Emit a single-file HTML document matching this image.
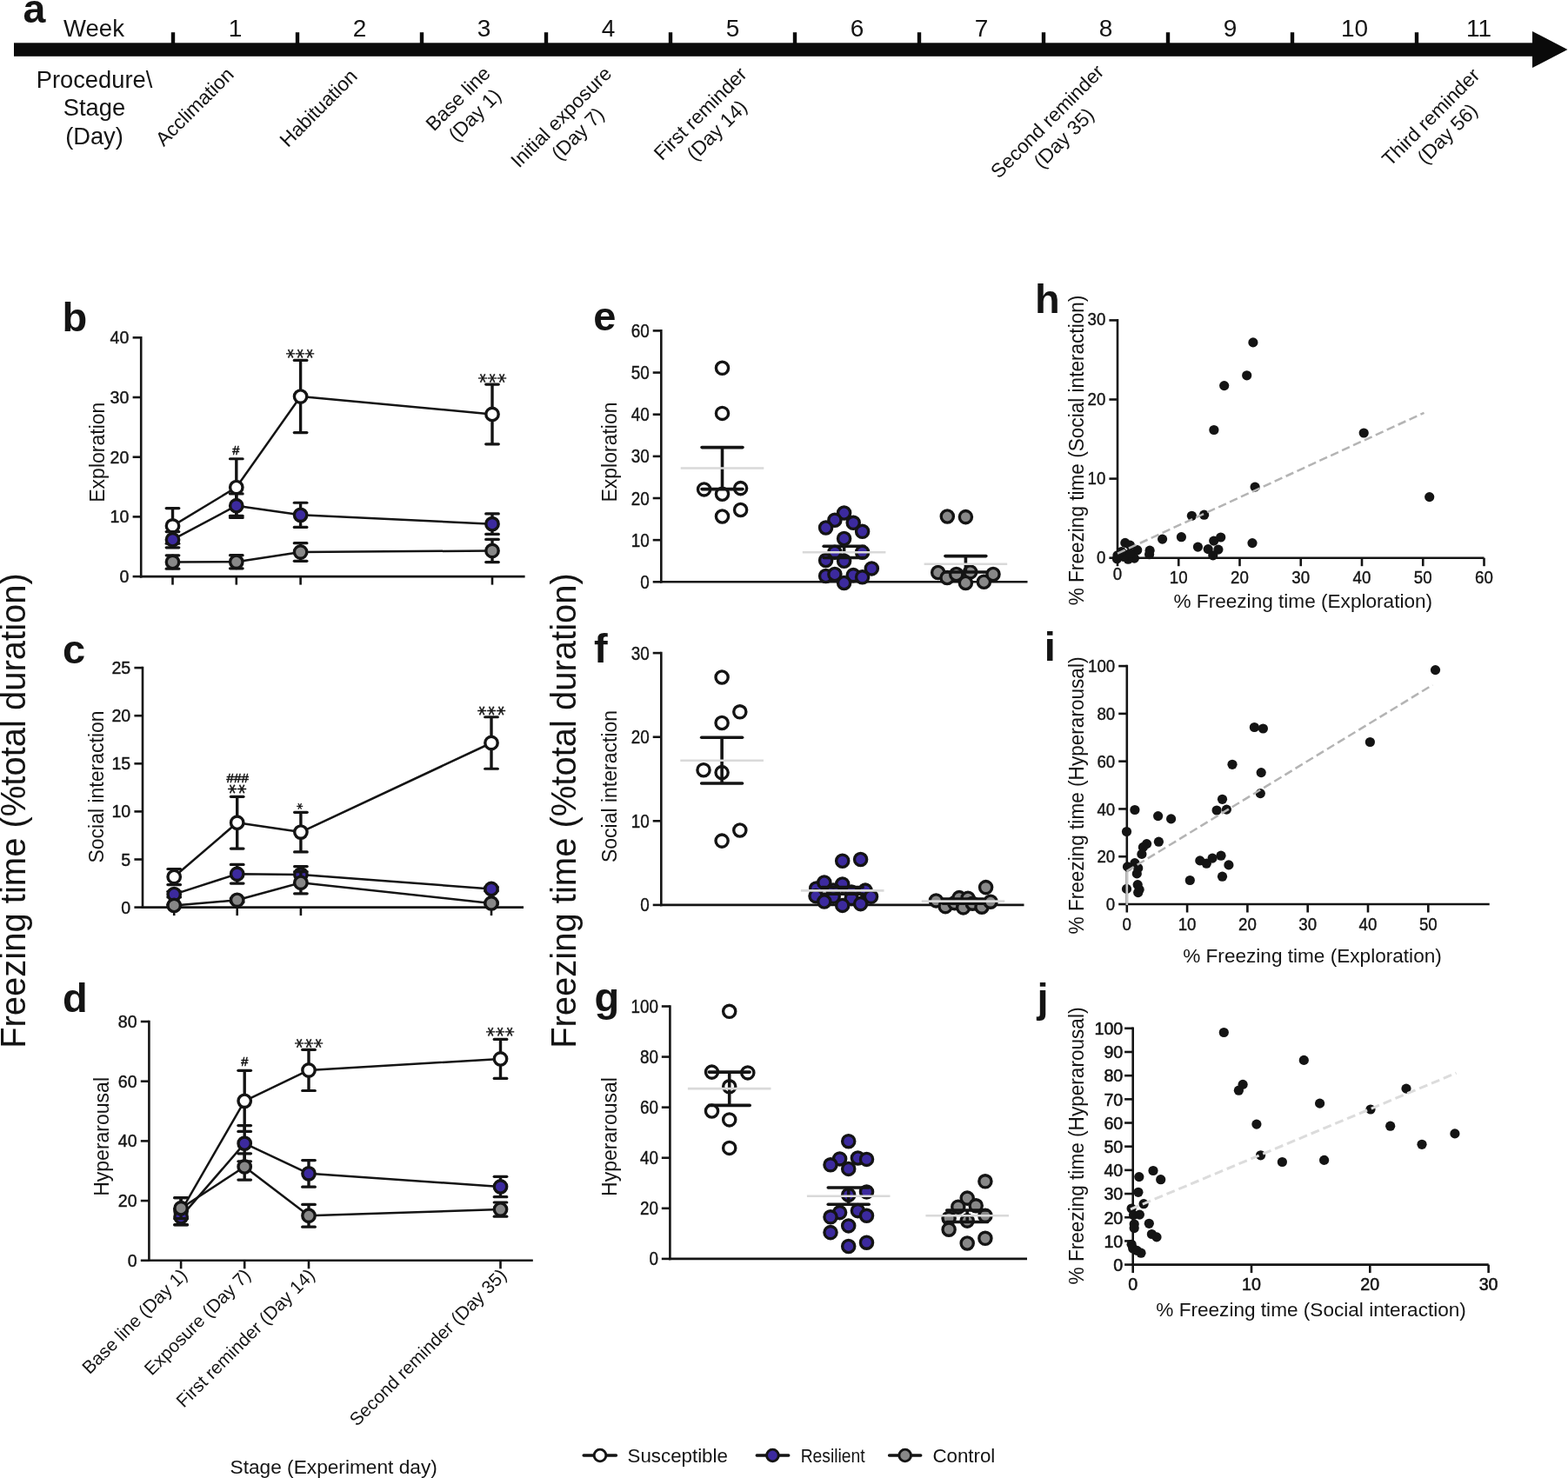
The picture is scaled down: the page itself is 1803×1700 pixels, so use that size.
<!DOCTYPE html>
<html><head><meta charset="utf-8"><title>Figure</title>
<style>
html,body{margin:0;padding:0;background:#fff;overflow:hidden;}
svg{display:block;}
text{font-family:"Liberation Sans", Arial, sans-serif;}
</style></head>
<body>
<svg width="1803" height="1700" viewBox="0 0 1803 1700">
<rect width="1803" height="1700" fill="#ffffff"/>
<rect x="16" y="49.3" width="1750" height="15.5" fill="#0a0a0a"/>
<polygon points="1762,36 1802.5,57 1762,78" fill="#0a0a0a"/>
<rect x="196.8" y="37.2" width="4.4" height="13" fill="#0a0a0a"/>
<rect x="339.8" y="37.2" width="4.4" height="13" fill="#0a0a0a"/>
<rect x="482.8" y="37.2" width="4.4" height="13" fill="#0a0a0a"/>
<rect x="625.8" y="37.2" width="4.4" height="13" fill="#0a0a0a"/>
<rect x="768.8" y="37.2" width="4.4" height="13" fill="#0a0a0a"/>
<rect x="911.8" y="37.2" width="4.4" height="13" fill="#0a0a0a"/>
<rect x="1054.8" y="37.2" width="4.4" height="13" fill="#0a0a0a"/>
<rect x="1197.8" y="37.2" width="4.4" height="13" fill="#0a0a0a"/>
<rect x="1340.8" y="37.2" width="4.4" height="13" fill="#0a0a0a"/>
<rect x="1483.8" y="37.2" width="4.4" height="13" fill="#0a0a0a"/>
<rect x="1626.8" y="37.2" width="4.4" height="13" fill="#0a0a0a"/>
<text x="108" y="42.4" font-size="27.5" text-anchor="middle" fill="#141414">Week</text>
<text x="270.5" y="42.4" font-size="28" text-anchor="middle" fill="#141414">1</text>
<text x="413.5" y="42.4" font-size="28" text-anchor="middle" fill="#141414">2</text>
<text x="556.5" y="42.4" font-size="28" text-anchor="middle" fill="#141414">3</text>
<text x="699.5" y="42.4" font-size="28" text-anchor="middle" fill="#141414">4</text>
<text x="842.5" y="42.4" font-size="28" text-anchor="middle" fill="#141414">5</text>
<text x="985.5" y="42.4" font-size="28" text-anchor="middle" fill="#141414">6</text>
<text x="1128.5" y="42.4" font-size="28" text-anchor="middle" fill="#141414">7</text>
<text x="1271.5" y="42.4" font-size="28" text-anchor="middle" fill="#141414">8</text>
<text x="1414.5" y="42.4" font-size="28" text-anchor="middle" fill="#141414">9</text>
<text x="1557.5" y="42.4" font-size="28" text-anchor="middle" fill="#141414">10</text>
<text x="1700.5" y="42.4" font-size="28" text-anchor="middle" fill="#141414">11</text>
<text x="26.5" y="25.8" font-size="46.5" text-anchor="start" font-weight="bold" fill="#141414">a</text>
<text x="108.5" y="100.8" font-size="27.3" text-anchor="middle" fill="#141414">Procedure\</text>
<text x="108.5" y="133.2" font-size="27.3" text-anchor="middle" fill="#141414">Stage</text>
<text x="108.5" y="165.7" font-size="27.3" text-anchor="middle" fill="#141414">(Day)</text>
<g transform="translate(223.5 122.5) rotate(-45)"><text x="0" y="8" font-size="22.7" text-anchor="middle" fill="#141414">Acclimation</text></g>
<g transform="translate(366 124) rotate(-45)"><text x="0" y="8" font-size="22.7" text-anchor="middle" fill="#141414">Habituation</text></g>
<g transform="translate(536 122.6) rotate(-45)"><text x="0" y="-5.5" font-size="22.7" text-anchor="middle" fill="#141414">Base line</text><text x="0" y="21.5" font-size="22.7" text-anchor="middle" fill="#141414">(Day 1)</text></g>
<g transform="translate(654.5 144) rotate(-45)"><text x="0" y="-5.5" font-size="22.7" text-anchor="middle" fill="#141414">Initial exposure</text><text x="0" y="21.5" font-size="22.7" text-anchor="middle" fill="#141414">(Day 7)</text></g>
<g transform="translate(814.5 140) rotate(-45)"><text x="0" y="-5.5" font-size="22.7" text-anchor="middle" fill="#141414">First reminder</text><text x="0" y="21.5" font-size="22.7" text-anchor="middle" fill="#141414">(Day 14)</text></g>
<g transform="translate(1213.5 149) rotate(-45)"><text x="0" y="-5.5" font-size="22.7" text-anchor="middle" fill="#141414">Second reminder</text><text x="0" y="21.5" font-size="22.7" text-anchor="middle" fill="#141414">(Day 35)</text></g>
<g transform="translate(1654.5 144) rotate(-45)"><text x="0" y="-5.5" font-size="22.7" text-anchor="middle" fill="#141414">Third reminder</text><text x="0" y="21.5" font-size="22.7" text-anchor="middle" fill="#141414">(Day 56)</text></g>
<text x="71.5" y="380.6" font-size="47" text-anchor="start" font-weight="bold" fill="#141414">b</text>
<text transform="translate(120.1 520.2) scale(1 1) rotate(-90)" font-size="23" text-anchor="middle" fill="#141414">Exploration</text>
<line x1="162.2" y1="387" x2="162.2" y2="664.4" stroke="#141414" stroke-width="2.6" stroke-linecap="butt"/>
<line x1="152.6" y1="663.1" x2="162.2" y2="663.1" stroke="#141414" stroke-width="2.6" stroke-linecap="butt"/>
<text transform="translate(148.4 670.12) scale(1 1)" font-size="19.6" text-anchor="end" fill="#141414" stroke="#141414" stroke-width="0.4">0</text>
<line x1="152.6" y1="594.4" x2="162.2" y2="594.4" stroke="#141414" stroke-width="2.6" stroke-linecap="butt"/>
<text transform="translate(148.4 601.42) scale(1 1)" font-size="19.6" text-anchor="end" fill="#141414" stroke="#141414" stroke-width="0.4">10</text>
<line x1="152.6" y1="525.7" x2="162.2" y2="525.7" stroke="#141414" stroke-width="2.6" stroke-linecap="butt"/>
<text transform="translate(148.4 532.72) scale(1 1)" font-size="19.6" text-anchor="end" fill="#141414" stroke="#141414" stroke-width="0.4">20</text>
<line x1="152.6" y1="457" x2="162.2" y2="457" stroke="#141414" stroke-width="2.6" stroke-linecap="butt"/>
<text transform="translate(148.4 464.02) scale(1 1)" font-size="19.6" text-anchor="end" fill="#141414" stroke="#141414" stroke-width="0.4">30</text>
<line x1="152.6" y1="388.3" x2="162.2" y2="388.3" stroke="#141414" stroke-width="2.6" stroke-linecap="butt"/>
<text transform="translate(148.4 395.32) scale(1 1)" font-size="19.6" text-anchor="end" fill="#141414" stroke="#141414" stroke-width="0.4">40</text>
<line x1="160.9" y1="663.1" x2="603.6" y2="663.1" stroke="#141414" stroke-width="2.6" stroke-linecap="butt"/>
<line x1="198.5" y1="663.1" x2="198.5" y2="672.6" stroke="#141414" stroke-width="2.6" stroke-linecap="butt"/>
<line x1="271.8" y1="663.1" x2="271.8" y2="672.6" stroke="#141414" stroke-width="2.6" stroke-linecap="butt"/>
<line x1="345.6" y1="663.1" x2="345.6" y2="672.6" stroke="#141414" stroke-width="2.6" stroke-linecap="butt"/>
<line x1="566" y1="663.1" x2="566" y2="672.6" stroke="#141414" stroke-width="2.6" stroke-linecap="butt"/>
<line x1="198.5" y1="584.58" x2="198.5" y2="625.25" stroke="#141414" stroke-width="3.4" stroke-linecap="butt"/>
<line x1="191.2" y1="584.58" x2="205.8" y2="584.58" stroke="#141414" stroke-width="3.2" stroke-linecap="round"/>
<line x1="191.2" y1="625.25" x2="205.8" y2="625.25" stroke="#141414" stroke-width="3.2" stroke-linecap="round"/>
<line x1="271.8" y1="527.76" x2="271.8" y2="593.3" stroke="#141414" stroke-width="3.4" stroke-linecap="butt"/>
<line x1="264.5" y1="527.76" x2="279.1" y2="527.76" stroke="#141414" stroke-width="3.2" stroke-linecap="round"/>
<line x1="264.5" y1="593.3" x2="279.1" y2="593.3" stroke="#141414" stroke-width="3.2" stroke-linecap="round"/>
<line x1="345.6" y1="414.47" x2="345.6" y2="497.6" stroke="#141414" stroke-width="3.4" stroke-linecap="butt"/>
<line x1="338.3" y1="414.47" x2="352.9" y2="414.47" stroke="#141414" stroke-width="3.2" stroke-linecap="round"/>
<line x1="338.3" y1="497.6" x2="352.9" y2="497.6" stroke="#141414" stroke-width="3.2" stroke-linecap="round"/>
<line x1="566" y1="442.09" x2="566" y2="510.79" stroke="#141414" stroke-width="3.4" stroke-linecap="butt"/>
<line x1="558.7" y1="442.09" x2="573.3" y2="442.09" stroke="#141414" stroke-width="3.2" stroke-linecap="round"/>
<line x1="558.7" y1="510.79" x2="573.3" y2="510.79" stroke="#141414" stroke-width="3.2" stroke-linecap="round"/>
<polyline points="198.5,604.91 271.8,560.53 345.6,456.04 566,476.44" fill="none" stroke="#141414" stroke-width="2.5" stroke-linejoin="round"/>
<circle cx="198.5" cy="604.91" r="7.2" fill="#ffffff" stroke="#141414" stroke-width="3.4"/>
<circle cx="271.8" cy="560.53" r="7.2" fill="#ffffff" stroke="#141414" stroke-width="3.4"/>
<circle cx="345.6" cy="456.04" r="7.2" fill="#ffffff" stroke="#141414" stroke-width="3.4"/>
<circle cx="566" cy="476.44" r="7.2" fill="#ffffff" stroke="#141414" stroke-width="3.4"/>
<line x1="198.5" y1="611.57" x2="198.5" y2="629.85" stroke="#141414" stroke-width="3.4" stroke-linecap="butt"/>
<line x1="191.2" y1="611.57" x2="205.8" y2="611.57" stroke="#141414" stroke-width="3.2" stroke-linecap="round"/>
<line x1="191.2" y1="629.85" x2="205.8" y2="629.85" stroke="#141414" stroke-width="3.2" stroke-linecap="round"/>
<line x1="271.8" y1="567.95" x2="271.8" y2="595.43" stroke="#141414" stroke-width="3.4" stroke-linecap="butt"/>
<line x1="264.5" y1="567.95" x2="279.1" y2="567.95" stroke="#141414" stroke-width="3.2" stroke-linecap="round"/>
<line x1="264.5" y1="595.43" x2="279.1" y2="595.43" stroke="#141414" stroke-width="3.2" stroke-linecap="round"/>
<line x1="345.6" y1="578.26" x2="345.6" y2="606.42" stroke="#141414" stroke-width="3.4" stroke-linecap="butt"/>
<line x1="338.3" y1="578.26" x2="352.9" y2="578.26" stroke="#141414" stroke-width="3.2" stroke-linecap="round"/>
<line x1="338.3" y1="606.42" x2="352.9" y2="606.42" stroke="#141414" stroke-width="3.2" stroke-linecap="round"/>
<line x1="566" y1="590.9" x2="566" y2="614.39" stroke="#141414" stroke-width="3.4" stroke-linecap="butt"/>
<line x1="558.7" y1="590.9" x2="573.3" y2="590.9" stroke="#141414" stroke-width="3.2" stroke-linecap="round"/>
<line x1="558.7" y1="614.39" x2="573.3" y2="614.39" stroke="#141414" stroke-width="3.2" stroke-linecap="round"/>
<polyline points="198.5,620.71 271.8,581.69 345.6,592.34 566,602.64" fill="none" stroke="#141414" stroke-width="2.5" stroke-linejoin="round"/>
<circle cx="198.5" cy="620.71" r="7.2" fill="#3c2a9e" stroke="#141414" stroke-width="3.4"/>
<circle cx="271.8" cy="581.69" r="7.2" fill="#3c2a9e" stroke="#141414" stroke-width="3.4"/>
<circle cx="345.6" cy="592.34" r="7.2" fill="#3c2a9e" stroke="#141414" stroke-width="3.4"/>
<circle cx="566" cy="602.64" r="7.2" fill="#3c2a9e" stroke="#141414" stroke-width="3.4"/>
<line x1="198.5" y1="638.78" x2="198.5" y2="654.17" stroke="#141414" stroke-width="3.4" stroke-linecap="butt"/>
<line x1="191.2" y1="638.78" x2="205.8" y2="638.78" stroke="#141414" stroke-width="3.2" stroke-linecap="round"/>
<line x1="191.2" y1="654.17" x2="205.8" y2="654.17" stroke="#141414" stroke-width="3.2" stroke-linecap="round"/>
<line x1="271.8" y1="638.71" x2="271.8" y2="653.83" stroke="#141414" stroke-width="3.4" stroke-linecap="butt"/>
<line x1="264.5" y1="638.71" x2="279.1" y2="638.71" stroke="#141414" stroke-width="3.2" stroke-linecap="round"/>
<line x1="264.5" y1="653.83" x2="279.1" y2="653.83" stroke="#141414" stroke-width="3.2" stroke-linecap="round"/>
<line x1="345.6" y1="624.7" x2="345.6" y2="645.31" stroke="#141414" stroke-width="3.4" stroke-linecap="butt"/>
<line x1="338.3" y1="624.7" x2="352.9" y2="624.7" stroke="#141414" stroke-width="3.2" stroke-linecap="round"/>
<line x1="338.3" y1="645.31" x2="352.9" y2="645.31" stroke="#141414" stroke-width="3.2" stroke-linecap="round"/>
<line x1="566" y1="620.44" x2="566" y2="646.54" stroke="#141414" stroke-width="3.4" stroke-linecap="butt"/>
<line x1="558.7" y1="620.44" x2="573.3" y2="620.44" stroke="#141414" stroke-width="3.2" stroke-linecap="round"/>
<line x1="558.7" y1="646.54" x2="573.3" y2="646.54" stroke="#141414" stroke-width="3.2" stroke-linecap="round"/>
<polyline points="198.5,646.47 271.8,646.27 345.6,635 566,633.49" fill="none" stroke="#141414" stroke-width="2.5" stroke-linejoin="round"/>
<circle cx="198.5" cy="646.47" r="7.2" fill="#888888" stroke="#141414" stroke-width="3.4"/>
<circle cx="271.8" cy="646.27" r="7.2" fill="#888888" stroke="#141414" stroke-width="3.4"/>
<circle cx="345.6" cy="635" r="7.2" fill="#888888" stroke="#141414" stroke-width="3.4"/>
<circle cx="566" cy="633.49" r="7.2" fill="#888888" stroke="#141414" stroke-width="3.4"/>
<text x="271.4" y="523.45" font-size="14.5" text-anchor="middle" fill="#141414" stroke="#141414" stroke-width="0.55">#</text>
<text x="339.96" y="401.3" style="font-family:'DejaVu Sans', 'Liberation Sans', sans-serif" font-size="22" rotate="90" text-anchor="middle" stroke="#141414" stroke-width="0.45" fill="#141414">***</text>
<text x="560.46" y="429.5" style="font-family:'DejaVu Sans', 'Liberation Sans', sans-serif" font-size="22" rotate="90" text-anchor="middle" stroke="#141414" stroke-width="0.45" fill="#141414">***</text>
<text x="72" y="762.5" font-size="47" text-anchor="start" font-weight="bold" fill="#141414">c</text>
<text transform="translate(118.6 905) scale(1 1) rotate(-90)" font-size="23" text-anchor="middle" fill="#141414">Social interaction</text>
<line x1="164" y1="766.8" x2="164" y2="1044.9" stroke="#141414" stroke-width="2.6" stroke-linecap="butt"/>
<line x1="154.4" y1="1043.6" x2="164" y2="1043.6" stroke="#141414" stroke-width="2.6" stroke-linecap="butt"/>
<text transform="translate(150.2 1050.62) scale(1 1)" font-size="19.6" text-anchor="end" fill="#141414" stroke="#141414" stroke-width="0.4">0</text>
<line x1="154.4" y1="988.5" x2="164" y2="988.5" stroke="#141414" stroke-width="2.6" stroke-linecap="butt"/>
<text transform="translate(150.2 995.52) scale(1 1)" font-size="19.6" text-anchor="end" fill="#141414" stroke="#141414" stroke-width="0.4">5</text>
<line x1="154.4" y1="933.4" x2="164" y2="933.4" stroke="#141414" stroke-width="2.6" stroke-linecap="butt"/>
<text transform="translate(150.2 940.42) scale(1 1)" font-size="19.6" text-anchor="end" fill="#141414" stroke="#141414" stroke-width="0.4">10</text>
<line x1="154.4" y1="878.3" x2="164" y2="878.3" stroke="#141414" stroke-width="2.6" stroke-linecap="butt"/>
<text transform="translate(150.2 885.32) scale(1 1)" font-size="19.6" text-anchor="end" fill="#141414" stroke="#141414" stroke-width="0.4">15</text>
<line x1="154.4" y1="823.2" x2="164" y2="823.2" stroke="#141414" stroke-width="2.6" stroke-linecap="butt"/>
<text transform="translate(150.2 830.22) scale(1 1)" font-size="19.6" text-anchor="end" fill="#141414" stroke="#141414" stroke-width="0.4">20</text>
<line x1="154.4" y1="768.1" x2="164" y2="768.1" stroke="#141414" stroke-width="2.6" stroke-linecap="butt"/>
<text transform="translate(150.2 775.12) scale(1 1)" font-size="19.6" text-anchor="end" fill="#141414" stroke="#141414" stroke-width="0.4">25</text>
<line x1="162.7" y1="1043.6" x2="602" y2="1043.6" stroke="#141414" stroke-width="2.6" stroke-linecap="butt"/>
<line x1="200.2" y1="1043.6" x2="200.2" y2="1053.1" stroke="#141414" stroke-width="2.6" stroke-linecap="butt"/>
<line x1="272.7" y1="1043.6" x2="272.7" y2="1053.1" stroke="#141414" stroke-width="2.6" stroke-linecap="butt"/>
<line x1="345.9" y1="1043.6" x2="345.9" y2="1053.1" stroke="#141414" stroke-width="2.6" stroke-linecap="butt"/>
<line x1="565" y1="1043.6" x2="565" y2="1053.1" stroke="#141414" stroke-width="2.6" stroke-linecap="butt"/>
<line x1="200.2" y1="999.52" x2="200.2" y2="1017.59" stroke="#141414" stroke-width="3.4" stroke-linecap="butt"/>
<line x1="192.9" y1="999.52" x2="207.5" y2="999.52" stroke="#141414" stroke-width="3.2" stroke-linecap="round"/>
<line x1="192.9" y1="1017.59" x2="207.5" y2="1017.59" stroke="#141414" stroke-width="3.2" stroke-linecap="round"/>
<line x1="272.7" y1="916.32" x2="272.7" y2="976.05" stroke="#141414" stroke-width="3.4" stroke-linecap="butt"/>
<line x1="265.4" y1="916.32" x2="280" y2="916.32" stroke="#141414" stroke-width="3.2" stroke-linecap="round"/>
<line x1="265.4" y1="976.05" x2="280" y2="976.05" stroke="#141414" stroke-width="3.2" stroke-linecap="round"/>
<line x1="345.9" y1="934.28" x2="345.9" y2="979.9" stroke="#141414" stroke-width="3.4" stroke-linecap="butt"/>
<line x1="338.6" y1="934.28" x2="353.2" y2="934.28" stroke="#141414" stroke-width="3.2" stroke-linecap="round"/>
<line x1="338.6" y1="979.9" x2="353.2" y2="979.9" stroke="#141414" stroke-width="3.2" stroke-linecap="round"/>
<line x1="565" y1="824.74" x2="565" y2="884.25" stroke="#141414" stroke-width="3.4" stroke-linecap="butt"/>
<line x1="557.7" y1="824.74" x2="572.3" y2="824.74" stroke="#141414" stroke-width="3.2" stroke-linecap="round"/>
<line x1="557.7" y1="884.25" x2="572.3" y2="884.25" stroke="#141414" stroke-width="3.2" stroke-linecap="round"/>
<polyline points="200.2,1008.56 272.7,946.18 345.9,957.09 565,854.5" fill="none" stroke="#141414" stroke-width="2.5" stroke-linejoin="round"/>
<circle cx="200.2" cy="1008.56" r="7.2" fill="#ffffff" stroke="#141414" stroke-width="3.4"/>
<circle cx="272.7" cy="946.18" r="7.2" fill="#ffffff" stroke="#141414" stroke-width="3.4"/>
<circle cx="345.9" cy="957.09" r="7.2" fill="#ffffff" stroke="#141414" stroke-width="3.4"/>
<circle cx="565" cy="854.5" r="7.2" fill="#ffffff" stroke="#141414" stroke-width="3.4"/>
<line x1="200.2" y1="1025.31" x2="200.2" y2="1031.92" stroke="#141414" stroke-width="3.4" stroke-linecap="butt"/>
<line x1="192.9" y1="1025.31" x2="207.5" y2="1025.31" stroke="#141414" stroke-width="3.2" stroke-linecap="round"/>
<line x1="192.9" y1="1031.92" x2="207.5" y2="1031.92" stroke="#141414" stroke-width="3.2" stroke-linecap="round"/>
<line x1="272.7" y1="994.45" x2="272.7" y2="1016.05" stroke="#141414" stroke-width="3.4" stroke-linecap="butt"/>
<line x1="265.4" y1="994.45" x2="280" y2="994.45" stroke="#141414" stroke-width="3.2" stroke-linecap="round"/>
<line x1="265.4" y1="1016.05" x2="280" y2="1016.05" stroke="#141414" stroke-width="3.2" stroke-linecap="round"/>
<line x1="345.9" y1="996.54" x2="345.9" y2="1015.28" stroke="#141414" stroke-width="3.4" stroke-linecap="butt"/>
<line x1="338.6" y1="996.54" x2="353.2" y2="996.54" stroke="#141414" stroke-width="3.2" stroke-linecap="round"/>
<line x1="338.6" y1="1015.28" x2="353.2" y2="1015.28" stroke="#141414" stroke-width="3.2" stroke-linecap="round"/>
<line x1="565" y1="1020.24" x2="565" y2="1024.65" stroke="#141414" stroke-width="3.4" stroke-linecap="butt"/>
<line x1="557.7" y1="1020.24" x2="572.3" y2="1020.24" stroke="#141414" stroke-width="3.2" stroke-linecap="round"/>
<line x1="557.7" y1="1024.65" x2="572.3" y2="1024.65" stroke="#141414" stroke-width="3.2" stroke-linecap="round"/>
<polyline points="200.2,1028.61 272.7,1005.25 345.9,1005.91 565,1022.44" fill="none" stroke="#141414" stroke-width="2.5" stroke-linejoin="round"/>
<circle cx="200.2" cy="1028.61" r="7.2" fill="#3c2a9e" stroke="#141414" stroke-width="3.4"/>
<circle cx="272.7" cy="1005.25" r="7.2" fill="#3c2a9e" stroke="#141414" stroke-width="3.4"/>
<circle cx="345.9" cy="1005.91" r="7.2" fill="#3c2a9e" stroke="#141414" stroke-width="3.4"/>
<circle cx="565" cy="1022.44" r="7.2" fill="#3c2a9e" stroke="#141414" stroke-width="3.4"/>
<line x1="200.2" y1="1040.29" x2="200.2" y2="1042.5" stroke="#141414" stroke-width="3.4" stroke-linecap="butt"/>
<line x1="192.9" y1="1040.29" x2="207.5" y2="1040.29" stroke="#141414" stroke-width="3.2" stroke-linecap="round"/>
<line x1="192.9" y1="1042.5" x2="207.5" y2="1042.5" stroke="#141414" stroke-width="3.2" stroke-linecap="round"/>
<line x1="272.7" y1="1033.13" x2="272.7" y2="1037.54" stroke="#141414" stroke-width="3.4" stroke-linecap="butt"/>
<line x1="265.4" y1="1033.13" x2="280" y2="1033.13" stroke="#141414" stroke-width="3.2" stroke-linecap="round"/>
<line x1="265.4" y1="1037.54" x2="280" y2="1037.54" stroke="#141414" stroke-width="3.2" stroke-linecap="round"/>
<line x1="345.9" y1="1002.72" x2="345.9" y2="1027.84" stroke="#141414" stroke-width="3.4" stroke-linecap="butt"/>
<line x1="338.6" y1="1002.72" x2="353.2" y2="1002.72" stroke="#141414" stroke-width="3.2" stroke-linecap="round"/>
<line x1="338.6" y1="1027.84" x2="353.2" y2="1027.84" stroke="#141414" stroke-width="3.2" stroke-linecap="round"/>
<line x1="565" y1="1037.87" x2="565" y2="1040.07" stroke="#141414" stroke-width="3.4" stroke-linecap="butt"/>
<line x1="557.7" y1="1037.87" x2="572.3" y2="1037.87" stroke="#141414" stroke-width="3.2" stroke-linecap="round"/>
<line x1="557.7" y1="1040.07" x2="572.3" y2="1040.07" stroke="#141414" stroke-width="3.2" stroke-linecap="round"/>
<polyline points="200.2,1041.4 272.7,1035.33 345.9,1015.28 565,1038.97" fill="none" stroke="#141414" stroke-width="2.5" stroke-linejoin="round"/>
<circle cx="200.2" cy="1041.4" r="7.2" fill="#888888" stroke="#141414" stroke-width="3.4"/>
<circle cx="272.7" cy="1035.33" r="7.2" fill="#888888" stroke="#141414" stroke-width="3.4"/>
<circle cx="345.9" cy="1015.28" r="7.2" fill="#888888" stroke="#141414" stroke-width="3.4"/>
<circle cx="565" cy="1038.97" r="7.2" fill="#888888" stroke="#141414" stroke-width="3.4"/>
<text x="273.2" y="900.1" font-size="15.2" text-anchor="middle" fill="#141414" stroke="#141414" stroke-width="0.55">###</text>
<text x="266.86" y="902.1" style="font-family:'DejaVu Sans', 'Liberation Sans', sans-serif" font-size="22" rotate="90" text-anchor="middle" stroke="#141414" stroke-width="0.45" fill="#141414">**</text>
<text x="341.78" y="923.67" style="font-family:'DejaVu Sans', 'Liberation Sans', sans-serif" font-size="14.5" rotate="90" text-anchor="middle" stroke="#141414" stroke-width="0.45" fill="#141414">*</text>
<text x="559.56" y="812" style="font-family:'DejaVu Sans', 'Liberation Sans', sans-serif" font-size="22" rotate="90" text-anchor="middle" stroke="#141414" stroke-width="0.45" fill="#141414">***</text>
<text x="72" y="1163.5" font-size="47" text-anchor="start" font-weight="bold" fill="#141414">d</text>
<text transform="translate(124.9 1307.4) scale(1 1) rotate(-90)" font-size="23" text-anchor="middle" fill="#141414">Hyperarousal</text>
<line x1="171.4" y1="1173.7" x2="171.4" y2="1451.1" stroke="#141414" stroke-width="2.6" stroke-linecap="butt"/>
<line x1="161.8" y1="1449.8" x2="171.4" y2="1449.8" stroke="#141414" stroke-width="2.6" stroke-linecap="butt"/>
<text transform="translate(157.6 1456.82) scale(1 1)" font-size="19.6" text-anchor="end" fill="#141414" stroke="#141414" stroke-width="0.4">0</text>
<line x1="161.8" y1="1381.1" x2="171.4" y2="1381.1" stroke="#141414" stroke-width="2.6" stroke-linecap="butt"/>
<text transform="translate(157.6 1388.12) scale(1 1)" font-size="19.6" text-anchor="end" fill="#141414" stroke="#141414" stroke-width="0.4">20</text>
<line x1="161.8" y1="1312.4" x2="171.4" y2="1312.4" stroke="#141414" stroke-width="2.6" stroke-linecap="butt"/>
<text transform="translate(157.6 1319.42) scale(1 1)" font-size="19.6" text-anchor="end" fill="#141414" stroke="#141414" stroke-width="0.4">40</text>
<line x1="161.8" y1="1243.7" x2="171.4" y2="1243.7" stroke="#141414" stroke-width="2.6" stroke-linecap="butt"/>
<text transform="translate(157.6 1250.72) scale(1 1)" font-size="19.6" text-anchor="end" fill="#141414" stroke="#141414" stroke-width="0.4">60</text>
<line x1="161.8" y1="1175" x2="171.4" y2="1175" stroke="#141414" stroke-width="2.6" stroke-linecap="butt"/>
<text transform="translate(157.6 1182.02) scale(1 1)" font-size="19.6" text-anchor="end" fill="#141414" stroke="#141414" stroke-width="0.4">80</text>
<line x1="170.1" y1="1449.8" x2="612.8" y2="1449.8" stroke="#141414" stroke-width="2.6" stroke-linecap="butt"/>
<line x1="208.1" y1="1449.8" x2="208.1" y2="1459.3" stroke="#141414" stroke-width="2.6" stroke-linecap="butt"/>
<line x1="281.2" y1="1449.8" x2="281.2" y2="1459.3" stroke="#141414" stroke-width="2.6" stroke-linecap="butt"/>
<line x1="355" y1="1449.8" x2="355" y2="1459.3" stroke="#141414" stroke-width="2.6" stroke-linecap="butt"/>
<line x1="575.5" y1="1449.8" x2="575.5" y2="1459.3" stroke="#141414" stroke-width="2.6" stroke-linecap="butt"/>
<line x1="208.1" y1="1377.66" x2="208.1" y2="1408.58" stroke="#141414" stroke-width="3.4" stroke-linecap="butt"/>
<line x1="200.8" y1="1377.66" x2="215.4" y2="1377.66" stroke="#141414" stroke-width="3.2" stroke-linecap="round"/>
<line x1="200.8" y1="1408.58" x2="215.4" y2="1408.58" stroke="#141414" stroke-width="3.2" stroke-linecap="round"/>
<line x1="281.2" y1="1231.33" x2="281.2" y2="1301.41" stroke="#141414" stroke-width="3.4" stroke-linecap="butt"/>
<line x1="273.9" y1="1231.33" x2="288.5" y2="1231.33" stroke="#141414" stroke-width="3.2" stroke-linecap="round"/>
<line x1="273.9" y1="1301.41" x2="288.5" y2="1301.41" stroke="#141414" stroke-width="3.2" stroke-linecap="round"/>
<line x1="355" y1="1207.46" x2="355" y2="1254.52" stroke="#141414" stroke-width="3.4" stroke-linecap="butt"/>
<line x1="347.7" y1="1207.46" x2="362.3" y2="1207.46" stroke="#141414" stroke-width="3.2" stroke-linecap="round"/>
<line x1="347.7" y1="1254.52" x2="362.3" y2="1254.52" stroke="#141414" stroke-width="3.2" stroke-linecap="round"/>
<line x1="575.5" y1="1195.44" x2="575.5" y2="1240.44" stroke="#141414" stroke-width="3.4" stroke-linecap="butt"/>
<line x1="568.2" y1="1195.44" x2="582.8" y2="1195.44" stroke="#141414" stroke-width="3.2" stroke-linecap="round"/>
<line x1="568.2" y1="1240.44" x2="582.8" y2="1240.44" stroke="#141414" stroke-width="3.2" stroke-linecap="round"/>
<polyline points="208.1,1393.12 281.2,1266.37 355,1230.99 575.5,1217.94" fill="none" stroke="#141414" stroke-width="2.5" stroke-linejoin="round"/>
<circle cx="208.1" cy="1393.12" r="7.2" fill="#ffffff" stroke="#141414" stroke-width="3.4"/>
<circle cx="281.2" cy="1266.37" r="7.2" fill="#ffffff" stroke="#141414" stroke-width="3.4"/>
<circle cx="355" cy="1230.99" r="7.2" fill="#ffffff" stroke="#141414" stroke-width="3.4"/>
<circle cx="575.5" cy="1217.94" r="7.2" fill="#ffffff" stroke="#141414" stroke-width="3.4"/>
<line x1="208.1" y1="1390.37" x2="208.1" y2="1408.92" stroke="#141414" stroke-width="3.4" stroke-linecap="butt"/>
<line x1="200.8" y1="1390.37" x2="215.4" y2="1390.37" stroke="#141414" stroke-width="3.2" stroke-linecap="round"/>
<line x1="200.8" y1="1408.92" x2="215.4" y2="1408.92" stroke="#141414" stroke-width="3.2" stroke-linecap="round"/>
<line x1="281.2" y1="1294.54" x2="281.2" y2="1335.76" stroke="#141414" stroke-width="3.4" stroke-linecap="butt"/>
<line x1="273.9" y1="1294.54" x2="288.5" y2="1294.54" stroke="#141414" stroke-width="3.2" stroke-linecap="round"/>
<line x1="273.9" y1="1335.76" x2="288.5" y2="1335.76" stroke="#141414" stroke-width="3.2" stroke-linecap="round"/>
<line x1="355" y1="1334.56" x2="355" y2="1365.13" stroke="#141414" stroke-width="3.4" stroke-linecap="butt"/>
<line x1="347.7" y1="1334.56" x2="362.3" y2="1334.56" stroke="#141414" stroke-width="3.2" stroke-linecap="round"/>
<line x1="347.7" y1="1365.13" x2="362.3" y2="1365.13" stroke="#141414" stroke-width="3.2" stroke-linecap="round"/>
<line x1="575.5" y1="1353.28" x2="575.5" y2="1376.63" stroke="#141414" stroke-width="3.4" stroke-linecap="butt"/>
<line x1="568.2" y1="1353.28" x2="582.8" y2="1353.28" stroke="#141414" stroke-width="3.2" stroke-linecap="round"/>
<line x1="568.2" y1="1376.63" x2="582.8" y2="1376.63" stroke="#141414" stroke-width="3.2" stroke-linecap="round"/>
<polyline points="208.1,1399.65 281.2,1315.15 355,1349.84 575.5,1364.96" fill="none" stroke="#141414" stroke-width="2.5" stroke-linejoin="round"/>
<circle cx="208.1" cy="1399.65" r="7.2" fill="#3c2a9e" stroke="#141414" stroke-width="3.4"/>
<circle cx="281.2" cy="1315.15" r="7.2" fill="#3c2a9e" stroke="#141414" stroke-width="3.4"/>
<circle cx="355" cy="1349.84" r="7.2" fill="#3c2a9e" stroke="#141414" stroke-width="3.4"/>
<circle cx="575.5" cy="1364.96" r="7.2" fill="#3c2a9e" stroke="#141414" stroke-width="3.4"/>
<line x1="208.1" y1="1377.66" x2="208.1" y2="1401.71" stroke="#141414" stroke-width="3.4" stroke-linecap="butt"/>
<line x1="200.8" y1="1377.66" x2="215.4" y2="1377.66" stroke="#141414" stroke-width="3.2" stroke-linecap="round"/>
<line x1="200.8" y1="1401.71" x2="215.4" y2="1401.71" stroke="#141414" stroke-width="3.2" stroke-linecap="round"/>
<line x1="281.2" y1="1326.83" x2="281.2" y2="1357.06" stroke="#141414" stroke-width="3.4" stroke-linecap="butt"/>
<line x1="273.9" y1="1326.83" x2="288.5" y2="1326.83" stroke="#141414" stroke-width="3.2" stroke-linecap="round"/>
<line x1="273.9" y1="1357.06" x2="288.5" y2="1357.06" stroke="#141414" stroke-width="3.2" stroke-linecap="round"/>
<line x1="355" y1="1385.39" x2="355" y2="1411.16" stroke="#141414" stroke-width="3.4" stroke-linecap="butt"/>
<line x1="347.7" y1="1385.39" x2="362.3" y2="1385.39" stroke="#141414" stroke-width="3.2" stroke-linecap="round"/>
<line x1="347.7" y1="1411.16" x2="362.3" y2="1411.16" stroke="#141414" stroke-width="3.2" stroke-linecap="round"/>
<line x1="575.5" y1="1382.99" x2="575.5" y2="1399.13" stroke="#141414" stroke-width="3.4" stroke-linecap="butt"/>
<line x1="568.2" y1="1382.99" x2="582.8" y2="1382.99" stroke="#141414" stroke-width="3.2" stroke-linecap="round"/>
<line x1="568.2" y1="1399.13" x2="582.8" y2="1399.13" stroke="#141414" stroke-width="3.2" stroke-linecap="round"/>
<polyline points="208.1,1389.69 281.2,1341.94 355,1398.27 575.5,1391.06" fill="none" stroke="#141414" stroke-width="2.5" stroke-linejoin="round"/>
<circle cx="208.1" cy="1389.69" r="7.2" fill="#888888" stroke="#141414" stroke-width="3.4"/>
<circle cx="281.2" cy="1341.94" r="7.2" fill="#888888" stroke="#141414" stroke-width="3.4"/>
<circle cx="355" cy="1398.27" r="7.2" fill="#888888" stroke="#141414" stroke-width="3.4"/>
<circle cx="575.5" cy="1391.06" r="7.2" fill="#888888" stroke="#141414" stroke-width="3.4"/>
<text x="281.3" y="1226.45" font-size="14.5" text-anchor="middle" fill="#141414" stroke="#141414" stroke-width="0.55">#</text>
<text x="349.06" y="1194.5" style="font-family:'DejaVu Sans', 'Liberation Sans', sans-serif" font-size="22" rotate="90" text-anchor="middle" stroke="#141414" stroke-width="0.45" fill="#141414">***</text>
<text x="569.56" y="1181.2" style="font-family:'DejaVu Sans', 'Liberation Sans', sans-serif" font-size="22" rotate="90" text-anchor="middle" stroke="#141414" stroke-width="0.45" fill="#141414">***</text>
<text x="0" y="0" font-size="20.9" text-anchor="end" fill="#141414" transform="translate(216.3 1468.1) rotate(-45)">Base line (Day 1)</text>
<text x="0" y="0" font-size="20.9" text-anchor="end" fill="#141414" transform="translate(289.4 1468.1) rotate(-45)">Exposure (Day 7)</text>
<text x="0" y="0" font-size="20.9" text-anchor="end" fill="#141414" transform="translate(363.2 1468.1) rotate(-45)">First reminder (Day 14)</text>
<text x="0" y="0" font-size="20.9" text-anchor="end" fill="#141414" transform="translate(583.7 1468.1) rotate(-45)">Second reminder (Day 35)</text>
<text x="383.7" y="1694.6" font-size="22.7" text-anchor="middle" fill="#141414">Stage (Experiment day)</text>
<text transform="translate(29 932.5) scale(1.03 1) rotate(-90)" font-size="40" text-anchor="middle" fill="#141414">Freezing time (%total duration)</text>
<text transform="translate(662.1 932.5) scale(1.03 1) rotate(-90)" font-size="40" text-anchor="middle" fill="#141414">Freezing time (%total duration)</text>
<text x="682.3" y="379.7" font-size="47" text-anchor="start" font-weight="bold" fill="#141414">e</text>
<text transform="translate(708.8 520) scale(1 1) rotate(-90)" font-size="23" text-anchor="middle" fill="#141414">Exploration</text>
<line x1="760.3" y1="379.1" x2="760.3" y2="670.6" stroke="#141414" stroke-width="2.6" stroke-linecap="butt"/>
<line x1="750.7" y1="669.3" x2="760.3" y2="669.3" stroke="#141414" stroke-width="2.6" stroke-linecap="butt"/>
<text transform="translate(746.8 676.89) scale(0.89 1)" font-size="21.2" text-anchor="end" fill="#141414" stroke="#141414" stroke-width="0.4">0</text>
<line x1="750.7" y1="621.15" x2="760.3" y2="621.15" stroke="#141414" stroke-width="2.6" stroke-linecap="butt"/>
<text transform="translate(746.8 628.74) scale(0.89 1)" font-size="21.2" text-anchor="end" fill="#141414" stroke="#141414" stroke-width="0.4">10</text>
<line x1="750.7" y1="573" x2="760.3" y2="573" stroke="#141414" stroke-width="2.6" stroke-linecap="butt"/>
<text transform="translate(746.8 580.59) scale(0.89 1)" font-size="21.2" text-anchor="end" fill="#141414" stroke="#141414" stroke-width="0.4">20</text>
<line x1="750.7" y1="524.85" x2="760.3" y2="524.85" stroke="#141414" stroke-width="2.6" stroke-linecap="butt"/>
<text transform="translate(746.8 532.44) scale(0.89 1)" font-size="21.2" text-anchor="end" fill="#141414" stroke="#141414" stroke-width="0.4">30</text>
<line x1="750.7" y1="476.7" x2="760.3" y2="476.7" stroke="#141414" stroke-width="2.6" stroke-linecap="butt"/>
<text transform="translate(746.8 484.29) scale(0.89 1)" font-size="21.2" text-anchor="end" fill="#141414" stroke="#141414" stroke-width="0.4">40</text>
<line x1="750.7" y1="428.55" x2="760.3" y2="428.55" stroke="#141414" stroke-width="2.6" stroke-linecap="butt"/>
<text transform="translate(746.8 436.14) scale(0.89 1)" font-size="21.2" text-anchor="end" fill="#141414" stroke="#141414" stroke-width="0.4">50</text>
<line x1="750.7" y1="380.4" x2="760.3" y2="380.4" stroke="#141414" stroke-width="2.6" stroke-linecap="butt"/>
<text transform="translate(746.8 387.99) scale(0.89 1)" font-size="21.2" text-anchor="end" fill="#141414" stroke="#141414" stroke-width="0.4">60</text>
<line x1="759" y1="669.3" x2="1181.5" y2="669.3" stroke="#141414" stroke-width="2.6" stroke-linecap="butt"/>
<circle cx="830.5" cy="423.3" r="7.1" fill="#ffffff" stroke="#141414" stroke-width="3.35"/>
<circle cx="830.5" cy="475.4" r="7.1" fill="#ffffff" stroke="#141414" stroke-width="3.35"/>
<circle cx="809.6" cy="562.9" r="7.1" fill="#ffffff" stroke="#141414" stroke-width="3.35"/>
<circle cx="851.6" cy="561.6" r="7.1" fill="#ffffff" stroke="#141414" stroke-width="3.35"/>
<circle cx="830.5" cy="568.2" r="7.1" fill="#ffffff" stroke="#141414" stroke-width="3.35"/>
<circle cx="851.6" cy="586.5" r="7.1" fill="#ffffff" stroke="#141414" stroke-width="3.35"/>
<circle cx="830.5" cy="594" r="7.1" fill="#ffffff" stroke="#141414" stroke-width="3.35"/>
<line x1="830.5" y1="514.6" x2="830.5" y2="562.6" stroke="#141414" stroke-width="3.6" stroke-linecap="butt"/>
<line x1="807.05" y1="514.6" x2="853.95" y2="514.6" stroke="#141414" stroke-width="3.6" stroke-linecap="round"/>
<line x1="807.05" y1="562.6" x2="853.95" y2="562.6" stroke="#141414" stroke-width="3.6" stroke-linecap="round"/>
<line x1="782.7" y1="538.5" x2="878.3" y2="538.5" stroke="#d9d9d9" stroke-width="2.6" stroke-linecap="butt"/>
<circle cx="970.6" cy="590" r="7.1" fill="#3c2a9e" stroke="#141414" stroke-width="3.35"/>
<circle cx="959.9" cy="598.2" r="7.1" fill="#3c2a9e" stroke="#141414" stroke-width="3.35"/>
<circle cx="981.2" cy="601.3" r="7.1" fill="#3c2a9e" stroke="#141414" stroke-width="3.35"/>
<circle cx="949.6" cy="607" r="7.1" fill="#3c2a9e" stroke="#141414" stroke-width="3.35"/>
<circle cx="991.6" cy="611.3" r="7.1" fill="#3c2a9e" stroke="#141414" stroke-width="3.35"/>
<circle cx="970.6" cy="619.5" r="7.1" fill="#3c2a9e" stroke="#141414" stroke-width="3.35"/>
<circle cx="959.9" cy="635.2" r="7.1" fill="#3c2a9e" stroke="#141414" stroke-width="3.35"/>
<circle cx="991.6" cy="635.2" r="7.1" fill="#3c2a9e" stroke="#141414" stroke-width="3.35"/>
<circle cx="949.6" cy="644.5" r="7.1" fill="#3c2a9e" stroke="#141414" stroke-width="3.35"/>
<circle cx="970.6" cy="645.2" r="7.1" fill="#3c2a9e" stroke="#141414" stroke-width="3.35"/>
<circle cx="1002.3" cy="653.9" r="7.1" fill="#3c2a9e" stroke="#141414" stroke-width="3.35"/>
<circle cx="949.6" cy="662.5" r="7.1" fill="#3c2a9e" stroke="#141414" stroke-width="3.35"/>
<circle cx="959.9" cy="660.5" r="7.1" fill="#3c2a9e" stroke="#141414" stroke-width="3.35"/>
<circle cx="981.2" cy="661.6" r="7.1" fill="#3c2a9e" stroke="#141414" stroke-width="3.35"/>
<circle cx="991.6" cy="663.8" r="7.1" fill="#3c2a9e" stroke="#141414" stroke-width="3.35"/>
<circle cx="970.6" cy="670.5" r="7.1" fill="#3c2a9e" stroke="#141414" stroke-width="3.35"/>
<line x1="970.6" y1="628.2" x2="970.6" y2="641.5" stroke="#141414" stroke-width="3.6" stroke-linecap="butt"/>
<line x1="947.15" y1="628.2" x2="994.05" y2="628.2" stroke="#141414" stroke-width="3.6" stroke-linecap="round"/>
<line x1="947.15" y1="641.5" x2="994.05" y2="641.5" stroke="#141414" stroke-width="3.6" stroke-linecap="round"/>
<line x1="922.8" y1="635.2" x2="1018.4" y2="635.2" stroke="#d9d9d9" stroke-width="2.6" stroke-linecap="butt"/>
<circle cx="1089.3" cy="594" r="7.1" fill="#888888" stroke="#141414" stroke-width="3.35"/>
<circle cx="1110.4" cy="594.6" r="7.1" fill="#888888" stroke="#141414" stroke-width="3.35"/>
<circle cx="1078.7" cy="658.5" r="7.1" fill="#888888" stroke="#141414" stroke-width="3.35"/>
<circle cx="1089.1" cy="664.5" r="7.1" fill="#888888" stroke="#141414" stroke-width="3.35"/>
<circle cx="1099.7" cy="660.5" r="7.1" fill="#888888" stroke="#141414" stroke-width="3.35"/>
<circle cx="1115.7" cy="657.9" r="7.1" fill="#888888" stroke="#141414" stroke-width="3.35"/>
<circle cx="1110.4" cy="670.5" r="7.1" fill="#888888" stroke="#141414" stroke-width="3.35"/>
<circle cx="1131.4" cy="669.2" r="7.1" fill="#888888" stroke="#141414" stroke-width="3.35"/>
<circle cx="1142" cy="660.5" r="7.1" fill="#888888" stroke="#141414" stroke-width="3.35"/>
<line x1="1110.4" y1="639.6" x2="1110.4" y2="658" stroke="#141414" stroke-width="3.6" stroke-linecap="butt"/>
<line x1="1086.95" y1="639.6" x2="1133.85" y2="639.6" stroke="#141414" stroke-width="3.6" stroke-linecap="round"/>
<line x1="1086.95" y1="658" x2="1133.85" y2="658" stroke="#141414" stroke-width="3.6" stroke-linecap="round"/>
<line x1="1062.6" y1="648.8" x2="1158.2" y2="648.8" stroke="#d9d9d9" stroke-width="2.6" stroke-linecap="butt"/>
<text x="683.1" y="761.7" font-size="47" text-anchor="start" font-weight="bold" fill="#141414">f</text>
<text transform="translate(709 904.5) scale(1 1) rotate(-90)" font-size="23" text-anchor="middle" fill="#141414">Social interaction</text>
<line x1="760.3" y1="749.8" x2="760.3" y2="1042.2" stroke="#141414" stroke-width="2.6" stroke-linecap="butt"/>
<line x1="750.7" y1="1040.9" x2="760.3" y2="1040.9" stroke="#141414" stroke-width="2.6" stroke-linecap="butt"/>
<text transform="translate(746.8 1048.49) scale(0.89 1)" font-size="21.2" text-anchor="end" fill="#141414" stroke="#141414" stroke-width="0.4">0</text>
<line x1="750.7" y1="944.3" x2="760.3" y2="944.3" stroke="#141414" stroke-width="2.6" stroke-linecap="butt"/>
<text transform="translate(746.8 951.89) scale(0.89 1)" font-size="21.2" text-anchor="end" fill="#141414" stroke="#141414" stroke-width="0.4">10</text>
<line x1="750.7" y1="847.7" x2="760.3" y2="847.7" stroke="#141414" stroke-width="2.6" stroke-linecap="butt"/>
<text transform="translate(746.8 855.29) scale(0.89 1)" font-size="21.2" text-anchor="end" fill="#141414" stroke="#141414" stroke-width="0.4">20</text>
<line x1="750.7" y1="751.1" x2="760.3" y2="751.1" stroke="#141414" stroke-width="2.6" stroke-linecap="butt"/>
<text transform="translate(746.8 758.69) scale(0.89 1)" font-size="21.2" text-anchor="end" fill="#141414" stroke="#141414" stroke-width="0.4">30</text>
<line x1="759" y1="1040.9" x2="1177.5" y2="1040.9" stroke="#141414" stroke-width="2.6" stroke-linecap="butt"/>
<circle cx="830.1" cy="779" r="7.1" fill="#ffffff" stroke="#141414" stroke-width="3.35"/>
<circle cx="850.8" cy="818.8" r="7.1" fill="#ffffff" stroke="#141414" stroke-width="3.35"/>
<circle cx="830.1" cy="831.5" r="7.1" fill="#ffffff" stroke="#141414" stroke-width="3.35"/>
<circle cx="809" cy="885.7" r="7.1" fill="#ffffff" stroke="#141414" stroke-width="3.35"/>
<circle cx="830.1" cy="888.6" r="7.1" fill="#ffffff" stroke="#141414" stroke-width="3.35"/>
<circle cx="850.8" cy="955" r="7.1" fill="#ffffff" stroke="#141414" stroke-width="3.35"/>
<circle cx="830.1" cy="967.1" r="7.1" fill="#ffffff" stroke="#141414" stroke-width="3.35"/>
<line x1="830.1" y1="848.3" x2="830.1" y2="901" stroke="#141414" stroke-width="3.6" stroke-linecap="butt"/>
<line x1="806.65" y1="848.3" x2="853.55" y2="848.3" stroke="#141414" stroke-width="3.6" stroke-linecap="round"/>
<line x1="806.65" y1="901" x2="853.55" y2="901" stroke="#141414" stroke-width="3.6" stroke-linecap="round"/>
<line x1="782.3" y1="874.8" x2="877.9" y2="874.8" stroke="#d9d9d9" stroke-width="2.6" stroke-linecap="butt"/>
<circle cx="968.7" cy="990.2" r="7.1" fill="#3c2a9e" stroke="#141414" stroke-width="3.35"/>
<circle cx="989.6" cy="988.5" r="7.1" fill="#3c2a9e" stroke="#141414" stroke-width="3.35"/>
<circle cx="938.7" cy="1021.9" r="7.1" fill="#3c2a9e" stroke="#141414" stroke-width="3.35"/>
<circle cx="947.8" cy="1015" r="7.1" fill="#3c2a9e" stroke="#141414" stroke-width="3.35"/>
<circle cx="968.7" cy="1016.9" r="7.1" fill="#3c2a9e" stroke="#141414" stroke-width="3.35"/>
<circle cx="995" cy="1024.1" r="7.1" fill="#3c2a9e" stroke="#141414" stroke-width="3.35"/>
<circle cx="958.2" cy="1024" r="7.1" fill="#3c2a9e" stroke="#141414" stroke-width="3.35"/>
<circle cx="979.1" cy="1026" r="7.1" fill="#3c2a9e" stroke="#141414" stroke-width="3.35"/>
<circle cx="938" cy="1030.6" r="7.1" fill="#3c2a9e" stroke="#141414" stroke-width="3.35"/>
<circle cx="958.2" cy="1031.3" r="7.1" fill="#3c2a9e" stroke="#141414" stroke-width="3.35"/>
<circle cx="979.1" cy="1033.4" r="7.1" fill="#3c2a9e" stroke="#141414" stroke-width="3.35"/>
<circle cx="1001.5" cy="1031.3" r="7.1" fill="#3c2a9e" stroke="#141414" stroke-width="3.35"/>
<circle cx="947.8" cy="1037" r="7.1" fill="#3c2a9e" stroke="#141414" stroke-width="3.35"/>
<circle cx="989.6" cy="1039.6" r="7.1" fill="#3c2a9e" stroke="#141414" stroke-width="3.35"/>
<circle cx="968.7" cy="1041.4" r="7.1" fill="#3c2a9e" stroke="#141414" stroke-width="3.35"/>
<line x1="968.7" y1="1020.5" x2="968.7" y2="1028.3" stroke="#141414" stroke-width="3.6" stroke-linecap="butt"/>
<line x1="945.25" y1="1020.5" x2="992.15" y2="1020.5" stroke="#141414" stroke-width="3.6" stroke-linecap="round"/>
<line x1="945.25" y1="1028.3" x2="992.15" y2="1028.3" stroke="#141414" stroke-width="3.6" stroke-linecap="round"/>
<line x1="920.9" y1="1024.4" x2="1016.5" y2="1024.4" stroke="#d9d9d9" stroke-width="2.6" stroke-linecap="butt"/>
<circle cx="1133.6" cy="1020.6" r="7.1" fill="#888888" stroke="#141414" stroke-width="3.35"/>
<circle cx="1076.4" cy="1035.9" r="7.1" fill="#888888" stroke="#141414" stroke-width="3.35"/>
<circle cx="1087.1" cy="1042.6" r="7.1" fill="#888888" stroke="#141414" stroke-width="3.35"/>
<circle cx="1097.7" cy="1038.6" r="7.1" fill="#888888" stroke="#141414" stroke-width="3.35"/>
<circle cx="1103" cy="1032.6" r="7.1" fill="#888888" stroke="#141414" stroke-width="3.35"/>
<circle cx="1113" cy="1033.2" r="7.1" fill="#888888" stroke="#141414" stroke-width="3.35"/>
<circle cx="1107.7" cy="1043.9" r="7.1" fill="#888888" stroke="#141414" stroke-width="3.35"/>
<circle cx="1118.3" cy="1039.2" r="7.1" fill="#888888" stroke="#141414" stroke-width="3.35"/>
<circle cx="1129" cy="1043.2" r="7.1" fill="#888888" stroke="#141414" stroke-width="3.35"/>
<circle cx="1139" cy="1037.2" r="7.1" fill="#888888" stroke="#141414" stroke-width="3.35"/>
<line x1="1107.5" y1="1034" x2="1107.5" y2="1039.2" stroke="#141414" stroke-width="3.6" stroke-linecap="butt"/>
<line x1="1084.05" y1="1034" x2="1130.95" y2="1034" stroke="#141414" stroke-width="3.6" stroke-linecap="round"/>
<line x1="1084.05" y1="1039.2" x2="1130.95" y2="1039.2" stroke="#141414" stroke-width="3.6" stroke-linecap="round"/>
<line x1="1059.7" y1="1036.6" x2="1155.3" y2="1036.6" stroke="#d9d9d9" stroke-width="2.6" stroke-linecap="butt"/>
<text x="683.4" y="1162.7" font-size="47" text-anchor="start" font-weight="bold" fill="#141414">g</text>
<text transform="translate(709 1307.5) scale(1 1) rotate(-90)" font-size="23" text-anchor="middle" fill="#141414">Hyperarousal</text>
<line x1="770.4" y1="1156.2" x2="770.4" y2="1449.2" stroke="#141414" stroke-width="2.6" stroke-linecap="butt"/>
<line x1="760.8" y1="1447.9" x2="770.4" y2="1447.9" stroke="#141414" stroke-width="2.6" stroke-linecap="butt"/>
<text transform="translate(756.9 1455.49) scale(0.89 1)" font-size="21.2" text-anchor="end" fill="#141414" stroke="#141414" stroke-width="0.4">0</text>
<line x1="760.8" y1="1389.82" x2="770.4" y2="1389.82" stroke="#141414" stroke-width="2.6" stroke-linecap="butt"/>
<text transform="translate(756.9 1397.41) scale(0.89 1)" font-size="21.2" text-anchor="end" fill="#141414" stroke="#141414" stroke-width="0.4">20</text>
<line x1="760.8" y1="1331.74" x2="770.4" y2="1331.74" stroke="#141414" stroke-width="2.6" stroke-linecap="butt"/>
<text transform="translate(756.9 1339.33) scale(0.89 1)" font-size="21.2" text-anchor="end" fill="#141414" stroke="#141414" stroke-width="0.4">40</text>
<line x1="760.8" y1="1273.66" x2="770.4" y2="1273.66" stroke="#141414" stroke-width="2.6" stroke-linecap="butt"/>
<text transform="translate(756.9 1281.25) scale(0.89 1)" font-size="21.2" text-anchor="end" fill="#141414" stroke="#141414" stroke-width="0.4">60</text>
<line x1="760.8" y1="1215.58" x2="770.4" y2="1215.58" stroke="#141414" stroke-width="2.6" stroke-linecap="butt"/>
<text transform="translate(756.9 1223.17) scale(0.89 1)" font-size="21.2" text-anchor="end" fill="#141414" stroke="#141414" stroke-width="0.4">80</text>
<line x1="760.8" y1="1157.5" x2="770.4" y2="1157.5" stroke="#141414" stroke-width="2.6" stroke-linecap="butt"/>
<text transform="translate(756.9 1165.09) scale(0.89 1)" font-size="21.2" text-anchor="end" fill="#141414" stroke="#141414" stroke-width="0.4">100</text>
<line x1="769.1" y1="1447.9" x2="1181" y2="1447.9" stroke="#141414" stroke-width="2.6" stroke-linecap="butt"/>
<circle cx="838.7" cy="1163.3" r="7.1" fill="#ffffff" stroke="#141414" stroke-width="3.35"/>
<circle cx="818.5" cy="1233.1" r="7.1" fill="#ffffff" stroke="#141414" stroke-width="3.35"/>
<circle cx="859.8" cy="1233.9" r="7.1" fill="#ffffff" stroke="#141414" stroke-width="3.35"/>
<circle cx="838.7" cy="1249.8" r="7.1" fill="#ffffff" stroke="#141414" stroke-width="3.35"/>
<circle cx="818.5" cy="1278" r="7.1" fill="#ffffff" stroke="#141414" stroke-width="3.35"/>
<circle cx="838.7" cy="1287.9" r="7.1" fill="#ffffff" stroke="#141414" stroke-width="3.35"/>
<circle cx="838.7" cy="1320.4" r="7.1" fill="#ffffff" stroke="#141414" stroke-width="3.35"/>
<line x1="838.7" y1="1233.1" x2="838.7" y2="1271.4" stroke="#141414" stroke-width="3.6" stroke-linecap="butt"/>
<line x1="815.25" y1="1233.1" x2="862.15" y2="1233.1" stroke="#141414" stroke-width="3.6" stroke-linecap="round"/>
<line x1="815.25" y1="1271.4" x2="862.15" y2="1271.4" stroke="#141414" stroke-width="3.6" stroke-linecap="round"/>
<line x1="790.9" y1="1252.1" x2="886.5" y2="1252.1" stroke="#d9d9d9" stroke-width="2.6" stroke-linecap="butt"/>
<circle cx="975.7" cy="1312.7" r="7.1" fill="#3c2a9e" stroke="#141414" stroke-width="3.35"/>
<circle cx="965.6" cy="1332.9" r="7.1" fill="#3c2a9e" stroke="#141414" stroke-width="3.35"/>
<circle cx="986.4" cy="1332" r="7.1" fill="#3c2a9e" stroke="#141414" stroke-width="3.35"/>
<circle cx="955" cy="1339.8" r="7.1" fill="#3c2a9e" stroke="#141414" stroke-width="3.35"/>
<circle cx="996.5" cy="1333.4" r="7.1" fill="#3c2a9e" stroke="#141414" stroke-width="3.35"/>
<circle cx="975.7" cy="1344.4" r="7.1" fill="#3c2a9e" stroke="#141414" stroke-width="3.35"/>
<circle cx="996.5" cy="1370.9" r="7.1" fill="#3c2a9e" stroke="#141414" stroke-width="3.35"/>
<circle cx="975.7" cy="1374.4" r="7.1" fill="#3c2a9e" stroke="#141414" stroke-width="3.35"/>
<circle cx="965.6" cy="1394.6" r="7.1" fill="#3c2a9e" stroke="#141414" stroke-width="3.35"/>
<circle cx="986.4" cy="1392.6" r="7.1" fill="#3c2a9e" stroke="#141414" stroke-width="3.35"/>
<circle cx="955" cy="1399.8" r="7.1" fill="#3c2a9e" stroke="#141414" stroke-width="3.35"/>
<circle cx="996.5" cy="1398.3" r="7.1" fill="#3c2a9e" stroke="#141414" stroke-width="3.35"/>
<circle cx="975.7" cy="1409.9" r="7.1" fill="#3c2a9e" stroke="#141414" stroke-width="3.35"/>
<circle cx="955" cy="1417.6" r="7.1" fill="#3c2a9e" stroke="#141414" stroke-width="3.35"/>
<circle cx="996.5" cy="1429.2" r="7.1" fill="#3c2a9e" stroke="#141414" stroke-width="3.35"/>
<circle cx="975.7" cy="1433.5" r="7.1" fill="#3c2a9e" stroke="#141414" stroke-width="3.35"/>
<line x1="975.7" y1="1366" x2="975.7" y2="1385.3" stroke="#141414" stroke-width="3.6" stroke-linecap="butt"/>
<line x1="952.25" y1="1366" x2="999.15" y2="1366" stroke="#141414" stroke-width="3.6" stroke-linecap="round"/>
<line x1="952.25" y1="1385.3" x2="999.15" y2="1385.3" stroke="#141414" stroke-width="3.6" stroke-linecap="round"/>
<line x1="927.9" y1="1375.8" x2="1023.5" y2="1375.8" stroke="#d9d9d9" stroke-width="2.6" stroke-linecap="butt"/>
<circle cx="1132.9" cy="1358.8" r="7.1" fill="#888888" stroke="#141414" stroke-width="3.35"/>
<circle cx="1112.2" cy="1378.1" r="7.1" fill="#888888" stroke="#141414" stroke-width="3.35"/>
<circle cx="1101.8" cy="1388.2" r="7.1" fill="#888888" stroke="#141414" stroke-width="3.35"/>
<circle cx="1122.2" cy="1386.8" r="7.1" fill="#888888" stroke="#141414" stroke-width="3.35"/>
<circle cx="1091.1" cy="1401.2" r="7.1" fill="#888888" stroke="#141414" stroke-width="3.35"/>
<circle cx="1132.9" cy="1398.3" r="7.1" fill="#888888" stroke="#141414" stroke-width="3.35"/>
<circle cx="1112.2" cy="1404.1" r="7.1" fill="#888888" stroke="#141414" stroke-width="3.35"/>
<circle cx="1091.1" cy="1414.2" r="7.1" fill="#888888" stroke="#141414" stroke-width="3.35"/>
<circle cx="1132.9" cy="1424.3" r="7.1" fill="#888888" stroke="#141414" stroke-width="3.35"/>
<circle cx="1112.2" cy="1430" r="7.1" fill="#888888" stroke="#141414" stroke-width="3.35"/>
<line x1="1112.2" y1="1392" x2="1112.2" y2="1405.5" stroke="#141414" stroke-width="3.6" stroke-linecap="butt"/>
<line x1="1088.75" y1="1392" x2="1135.65" y2="1392" stroke="#141414" stroke-width="3.6" stroke-linecap="round"/>
<line x1="1088.75" y1="1405.5" x2="1135.65" y2="1405.5" stroke="#141414" stroke-width="3.6" stroke-linecap="round"/>
<line x1="1064.4" y1="1398.3" x2="1160" y2="1398.3" stroke="#d9d9d9" stroke-width="2.6" stroke-linecap="butt"/>
<text x="1190" y="360.4" font-size="47" text-anchor="start" font-weight="bold" fill="#141414">h</text>
<line x1="1285" y1="367.1" x2="1285" y2="643" stroke="#141414" stroke-width="2.6" stroke-linecap="butt"/>
<line x1="1275.4" y1="641.7" x2="1285" y2="641.7" stroke="#141414" stroke-width="2.6" stroke-linecap="butt"/>
<text transform="translate(1271.4 647.77) scale(0.92 1)" font-size="20.3" text-anchor="end" fill="#141414" stroke="#141414" stroke-width="0.4">0</text>
<line x1="1275.4" y1="550.6" x2="1285" y2="550.6" stroke="#141414" stroke-width="2.6" stroke-linecap="butt"/>
<text transform="translate(1271.4 556.67) scale(0.92 1)" font-size="20.3" text-anchor="end" fill="#141414" stroke="#141414" stroke-width="0.4">10</text>
<line x1="1275.4" y1="459.5" x2="1285" y2="459.5" stroke="#141414" stroke-width="2.6" stroke-linecap="butt"/>
<text transform="translate(1271.4 465.57) scale(0.92 1)" font-size="20.3" text-anchor="end" fill="#141414" stroke="#141414" stroke-width="0.4">20</text>
<line x1="1275.4" y1="368.4" x2="1285" y2="368.4" stroke="#141414" stroke-width="2.6" stroke-linecap="butt"/>
<text transform="translate(1271.4 374.47) scale(0.92 1)" font-size="20.3" text-anchor="end" fill="#141414" stroke="#141414" stroke-width="0.4">30</text>
<line x1="1283.7" y1="641.7" x2="1706.5" y2="641.7" stroke="#141414" stroke-width="2.6" stroke-linecap="butt"/>
<line x1="1285" y1="641.7" x2="1285" y2="651.2" stroke="#141414" stroke-width="2.6" stroke-linecap="butt"/>
<text transform="translate(1285 667.07) scale(0.92 1)" font-size="20.3" text-anchor="middle" fill="#141414" stroke="#141414" stroke-width="0.4">0</text>
<line x1="1355.25" y1="641.7" x2="1355.25" y2="651.2" stroke="#141414" stroke-width="2.6" stroke-linecap="butt"/>
<text transform="translate(1355.25 671.37) scale(0.92 1)" font-size="20.3" text-anchor="middle" fill="#141414" stroke="#141414" stroke-width="0.4">10</text>
<line x1="1425.5" y1="641.7" x2="1425.5" y2="651.2" stroke="#141414" stroke-width="2.6" stroke-linecap="butt"/>
<text transform="translate(1425.5 671.37) scale(0.92 1)" font-size="20.3" text-anchor="middle" fill="#141414" stroke="#141414" stroke-width="0.4">20</text>
<line x1="1495.75" y1="641.7" x2="1495.75" y2="651.2" stroke="#141414" stroke-width="2.6" stroke-linecap="butt"/>
<text transform="translate(1495.75 671.37) scale(0.92 1)" font-size="20.3" text-anchor="middle" fill="#141414" stroke="#141414" stroke-width="0.4">30</text>
<line x1="1566" y1="641.7" x2="1566" y2="651.2" stroke="#141414" stroke-width="2.6" stroke-linecap="butt"/>
<text transform="translate(1566 671.37) scale(0.92 1)" font-size="20.3" text-anchor="middle" fill="#141414" stroke="#141414" stroke-width="0.4">40</text>
<line x1="1636.25" y1="641.7" x2="1636.25" y2="651.2" stroke="#141414" stroke-width="2.6" stroke-linecap="butt"/>
<text transform="translate(1636.25 671.37) scale(0.92 1)" font-size="20.3" text-anchor="middle" fill="#141414" stroke="#141414" stroke-width="0.4">50</text>
<line x1="1706.5" y1="641.7" x2="1706.5" y2="651.2" stroke="#141414" stroke-width="2.6" stroke-linecap="butt"/>
<text transform="translate(1706.5 671.37) scale(0.92 1)" font-size="20.3" text-anchor="middle" fill="#141414" stroke="#141414" stroke-width="0.4">60</text>
<circle cx="1440.9" cy="393.9" r="5.6" fill="#141414"/>
<circle cx="1433.7" cy="431.8" r="5.6" fill="#141414"/>
<circle cx="1407.7" cy="443.6" r="5.6" fill="#141414"/>
<circle cx="1395.9" cy="494.5" r="5.6" fill="#141414"/>
<circle cx="1568.2" cy="498" r="5.6" fill="#141414"/>
<circle cx="1643.7" cy="571.6" r="5.6" fill="#141414"/>
<circle cx="1443.1" cy="560.1" r="5.6" fill="#141414"/>
<circle cx="1370.4" cy="593.3" r="5.6" fill="#141414"/>
<circle cx="1384.6" cy="592.2" r="5.6" fill="#141414"/>
<circle cx="1336.6" cy="620.1" r="5.6" fill="#141414"/>
<circle cx="1358.4" cy="617.7" r="5.6" fill="#141414"/>
<circle cx="1377.4" cy="629.1" r="5.6" fill="#141414"/>
<circle cx="1395.7" cy="622.1" r="5.6" fill="#141414"/>
<circle cx="1403.7" cy="618" r="5.6" fill="#141414"/>
<circle cx="1389.2" cy="631.6" r="5.6" fill="#141414"/>
<circle cx="1400.9" cy="632.1" r="5.6" fill="#141414"/>
<circle cx="1394.8" cy="638.8" r="5.6" fill="#141414"/>
<circle cx="1440" cy="624.6" r="5.6" fill="#141414"/>
<circle cx="1322.1" cy="633.2" r="5.6" fill="#141414"/>
<circle cx="1321.6" cy="637.7" r="5.6" fill="#141414"/>
<circle cx="1307.7" cy="632.7" r="5.6" fill="#141414"/>
<circle cx="1304.4" cy="642.1" r="5.6" fill="#141414"/>
<circle cx="1297.2" cy="643.2" r="5.6" fill="#141414"/>
<circle cx="1285" cy="638.8" r="5.6" fill="#141414"/>
<circle cx="1284.4" cy="642.7" r="5.6" fill="#141414"/>
<circle cx="1293.8" cy="624.4" r="5.6" fill="#141414"/>
<circle cx="1299.4" cy="627.1" r="5.6" fill="#141414"/>
<circle cx="1292.5" cy="640.5" r="5.6" fill="#141414"/>
<circle cx="1299.5" cy="636.5" r="5.6" fill="#141414"/>
<circle cx="1289.5" cy="634.5" r="5.6" fill="#141414"/>
<line x1="1285" y1="636.6" x2="1637.5" y2="474.8" stroke="#b4b4b4" stroke-width="2.5" stroke-linecap="butt" stroke-dasharray="9.6 4.6"/>
<text transform="translate(1246 518) scale(1.03 1) rotate(-90)" font-size="22.6" text-anchor="middle" fill="#141414">% Freezing time (Social interaction)</text>
<text x="1498.3" y="698.9" font-size="22.6" text-anchor="middle" fill="#141414">% Freezing time (Exploration)</text>
<text x="1200.7" y="760.4" font-size="47" text-anchor="start" font-weight="bold" fill="#141414">i</text>
<line x1="1295.8" y1="764.8" x2="1295.8" y2="1041.3" stroke="#141414" stroke-width="2.6" stroke-linecap="butt"/>
<line x1="1286.2" y1="1040" x2="1295.8" y2="1040" stroke="#141414" stroke-width="2.6" stroke-linecap="butt"/>
<text transform="translate(1282.2 1047.27) scale(0.92 1)" font-size="20.3" text-anchor="end" fill="#141414" stroke="#141414" stroke-width="0.4">0</text>
<line x1="1286.2" y1="985.22" x2="1295.8" y2="985.22" stroke="#141414" stroke-width="2.6" stroke-linecap="butt"/>
<text transform="translate(1282.2 992.49) scale(0.92 1)" font-size="20.3" text-anchor="end" fill="#141414" stroke="#141414" stroke-width="0.4">20</text>
<line x1="1286.2" y1="930.44" x2="1295.8" y2="930.44" stroke="#141414" stroke-width="2.6" stroke-linecap="butt"/>
<text transform="translate(1282.2 937.71) scale(0.92 1)" font-size="20.3" text-anchor="end" fill="#141414" stroke="#141414" stroke-width="0.4">40</text>
<line x1="1286.2" y1="875.66" x2="1295.8" y2="875.66" stroke="#141414" stroke-width="2.6" stroke-linecap="butt"/>
<text transform="translate(1282.2 882.93) scale(0.92 1)" font-size="20.3" text-anchor="end" fill="#141414" stroke="#141414" stroke-width="0.4">60</text>
<line x1="1286.2" y1="820.88" x2="1295.8" y2="820.88" stroke="#141414" stroke-width="2.6" stroke-linecap="butt"/>
<text transform="translate(1282.2 828.15) scale(0.92 1)" font-size="20.3" text-anchor="end" fill="#141414" stroke="#141414" stroke-width="0.4">80</text>
<line x1="1286.2" y1="766.1" x2="1295.8" y2="766.1" stroke="#141414" stroke-width="2.6" stroke-linecap="butt"/>
<text transform="translate(1282.2 773.37) scale(0.92 1)" font-size="20.3" text-anchor="end" fill="#141414" stroke="#141414" stroke-width="0.4">100</text>
<line x1="1294.5" y1="1040" x2="1712.7" y2="1040" stroke="#141414" stroke-width="2.6" stroke-linecap="butt"/>
<line x1="1295.8" y1="1040" x2="1295.8" y2="1049.5" stroke="#141414" stroke-width="2.6" stroke-linecap="butt"/>
<text transform="translate(1295.8 1070.02) scale(0.92 1)" font-size="20.3" text-anchor="middle" fill="#141414" stroke="#141414" stroke-width="0.4">0</text>
<line x1="1365.1" y1="1040" x2="1365.1" y2="1049.5" stroke="#141414" stroke-width="2.6" stroke-linecap="butt"/>
<text transform="translate(1365.1 1070.02) scale(0.92 1)" font-size="20.3" text-anchor="middle" fill="#141414" stroke="#141414" stroke-width="0.4">10</text>
<line x1="1434.4" y1="1040" x2="1434.4" y2="1049.5" stroke="#141414" stroke-width="2.6" stroke-linecap="butt"/>
<text transform="translate(1434.4 1070.02) scale(0.92 1)" font-size="20.3" text-anchor="middle" fill="#141414" stroke="#141414" stroke-width="0.4">20</text>
<line x1="1503.7" y1="1040" x2="1503.7" y2="1049.5" stroke="#141414" stroke-width="2.6" stroke-linecap="butt"/>
<text transform="translate(1503.7 1070.02) scale(0.92 1)" font-size="20.3" text-anchor="middle" fill="#141414" stroke="#141414" stroke-width="0.4">30</text>
<line x1="1573" y1="1040" x2="1573" y2="1049.5" stroke="#141414" stroke-width="2.6" stroke-linecap="butt"/>
<text transform="translate(1573 1070.02) scale(0.92 1)" font-size="20.3" text-anchor="middle" fill="#141414" stroke="#141414" stroke-width="0.4">40</text>
<line x1="1642.3" y1="1040" x2="1642.3" y2="1049.5" stroke="#141414" stroke-width="2.6" stroke-linecap="butt"/>
<text transform="translate(1642.3 1070.02) scale(0.92 1)" font-size="20.3" text-anchor="middle" fill="#141414" stroke="#141414" stroke-width="0.4">50</text>
<circle cx="1650.5" cy="770.6" r="5.6" fill="#141414"/>
<circle cx="1442.4" cy="836.5" r="5.6" fill="#141414"/>
<circle cx="1452.4" cy="838" r="5.6" fill="#141414"/>
<circle cx="1575.4" cy="853.5" r="5.6" fill="#141414"/>
<circle cx="1417" cy="879.3" r="5.6" fill="#141414"/>
<circle cx="1450.2" cy="888.6" r="5.6" fill="#141414"/>
<circle cx="1449.3" cy="912.6" r="5.6" fill="#141414"/>
<circle cx="1405.5" cy="919.3" r="5.6" fill="#141414"/>
<circle cx="1399.1" cy="932" r="5.6" fill="#141414"/>
<circle cx="1410.4" cy="931.1" r="5.6" fill="#141414"/>
<circle cx="1304.9" cy="931.5" r="5.6" fill="#141414"/>
<circle cx="1331.6" cy="938.6" r="5.6" fill="#141414"/>
<circle cx="1346.6" cy="941.9" r="5.6" fill="#141414"/>
<circle cx="1295.5" cy="956.5" r="5.6" fill="#141414"/>
<circle cx="1318.6" cy="970.6" r="5.6" fill="#141414"/>
<circle cx="1314.4" cy="974.4" r="5.6" fill="#141414"/>
<circle cx="1312.9" cy="982.4" r="5.6" fill="#141414"/>
<circle cx="1332.4" cy="968.2" r="5.6" fill="#141414"/>
<circle cx="1304.9" cy="992.7" r="5.6" fill="#141414"/>
<circle cx="1296.5" cy="996.9" r="5.6" fill="#141414"/>
<circle cx="1308.7" cy="998.4" r="5.6" fill="#141414"/>
<circle cx="1307.3" cy="1004.9" r="5.6" fill="#141414"/>
<circle cx="1308.2" cy="1017.6" r="5.6" fill="#141414"/>
<circle cx="1310.1" cy="1023.3" r="5.6" fill="#141414"/>
<circle cx="1308.7" cy="1026.6" r="5.6" fill="#141414"/>
<circle cx="1295.5" cy="1022.4" r="5.6" fill="#141414"/>
<circle cx="1368.3" cy="1012.5" r="5.6" fill="#141414"/>
<circle cx="1379.8" cy="989.9" r="5.6" fill="#141414"/>
<circle cx="1387.3" cy="993.2" r="5.6" fill="#141414"/>
<circle cx="1394.1" cy="987.1" r="5.6" fill="#141414"/>
<circle cx="1404" cy="984.2" r="5.6" fill="#141414"/>
<circle cx="1412.9" cy="994.9" r="5.6" fill="#141414"/>
<circle cx="1405.5" cy="1008.2" r="5.6" fill="#141414"/>
<line x1="1295.5" y1="1002.1" x2="1647.4" y2="787.8" stroke="#b4b4b4" stroke-width="2.5" stroke-linecap="butt" stroke-dasharray="9.6 4.6"/>
<text transform="translate(1246 915) scale(1.03 1) rotate(-90)" font-size="22.6" text-anchor="middle" fill="#141414">% Freezing time (Hyperarousal)</text>
<text x="1509" y="1106.7" font-size="22.6" text-anchor="middle" fill="#141414">% Freezing time (Exploration)</text>
<line x1="1295.8" y1="1002.5" x2="1295.8" y2="1041" stroke="#c4c4c4" stroke-width="2.6" stroke-linecap="butt"/>
<text x="1192.6" y="1164" font-size="47" text-anchor="start" font-weight="bold" fill="#141414">j</text>
<line x1="1302.7" y1="1181.5" x2="1302.7" y2="1455.9" stroke="#141414" stroke-width="2.6" stroke-linecap="butt"/>
<line x1="1293.1" y1="1454.6" x2="1302.7" y2="1454.6" stroke="#141414" stroke-width="2.6" stroke-linecap="butt"/>
<text transform="translate(1291.3 1461.87) scale(0.97 1)" font-size="20.3" text-anchor="end" fill="#141414" stroke="#141414" stroke-width="0.55">0</text>
<line x1="1293.1" y1="1427.42" x2="1302.7" y2="1427.42" stroke="#141414" stroke-width="2.6" stroke-linecap="butt"/>
<text transform="translate(1291.3 1434.69) scale(0.97 1)" font-size="20.3" text-anchor="end" fill="#141414" stroke="#141414" stroke-width="0.55">10</text>
<line x1="1293.1" y1="1400.24" x2="1302.7" y2="1400.24" stroke="#141414" stroke-width="2.6" stroke-linecap="butt"/>
<text transform="translate(1291.3 1407.51) scale(0.97 1)" font-size="20.3" text-anchor="end" fill="#141414" stroke="#141414" stroke-width="0.55">20</text>
<line x1="1293.1" y1="1373.06" x2="1302.7" y2="1373.06" stroke="#141414" stroke-width="2.6" stroke-linecap="butt"/>
<text transform="translate(1291.3 1380.33) scale(0.97 1)" font-size="20.3" text-anchor="end" fill="#141414" stroke="#141414" stroke-width="0.55">30</text>
<line x1="1293.1" y1="1345.88" x2="1302.7" y2="1345.88" stroke="#141414" stroke-width="2.6" stroke-linecap="butt"/>
<text transform="translate(1291.3 1353.15) scale(0.97 1)" font-size="20.3" text-anchor="end" fill="#141414" stroke="#141414" stroke-width="0.55">40</text>
<line x1="1293.1" y1="1318.7" x2="1302.7" y2="1318.7" stroke="#141414" stroke-width="2.6" stroke-linecap="butt"/>
<text transform="translate(1291.3 1325.97) scale(0.97 1)" font-size="20.3" text-anchor="end" fill="#141414" stroke="#141414" stroke-width="0.55">50</text>
<line x1="1293.1" y1="1291.52" x2="1302.7" y2="1291.52" stroke="#141414" stroke-width="2.6" stroke-linecap="butt"/>
<text transform="translate(1291.3 1298.79) scale(0.97 1)" font-size="20.3" text-anchor="end" fill="#141414" stroke="#141414" stroke-width="0.55">60</text>
<line x1="1293.1" y1="1264.34" x2="1302.7" y2="1264.34" stroke="#141414" stroke-width="2.6" stroke-linecap="butt"/>
<text transform="translate(1291.3 1271.61) scale(0.97 1)" font-size="20.3" text-anchor="end" fill="#141414" stroke="#141414" stroke-width="0.55">70</text>
<line x1="1293.1" y1="1237.16" x2="1302.7" y2="1237.16" stroke="#141414" stroke-width="2.6" stroke-linecap="butt"/>
<text transform="translate(1291.3 1244.43) scale(0.97 1)" font-size="20.3" text-anchor="end" fill="#141414" stroke="#141414" stroke-width="0.55">80</text>
<line x1="1293.1" y1="1209.98" x2="1302.7" y2="1209.98" stroke="#141414" stroke-width="2.6" stroke-linecap="butt"/>
<text transform="translate(1291.3 1217.25) scale(0.97 1)" font-size="20.3" text-anchor="end" fill="#141414" stroke="#141414" stroke-width="0.55">90</text>
<line x1="1293.1" y1="1182.8" x2="1302.7" y2="1182.8" stroke="#141414" stroke-width="2.6" stroke-linecap="butt"/>
<text transform="translate(1291.3 1190.07) scale(0.97 1)" font-size="20.3" text-anchor="end" fill="#141414" stroke="#141414" stroke-width="0.55">100</text>
<line x1="1301.4" y1="1454.6" x2="1711.7" y2="1454.6" stroke="#141414" stroke-width="2.6" stroke-linecap="butt"/>
<line x1="1302.7" y1="1454.6" x2="1302.7" y2="1464.1" stroke="#141414" stroke-width="2.6" stroke-linecap="butt"/>
<text transform="translate(1302.7 1484.47) scale(0.97 1)" font-size="20.3" text-anchor="middle" fill="#141414" stroke="#141414" stroke-width="0.55">0</text>
<line x1="1439" y1="1454.6" x2="1439" y2="1464.1" stroke="#141414" stroke-width="2.6" stroke-linecap="butt"/>
<text transform="translate(1439 1484.47) scale(0.97 1)" font-size="20.3" text-anchor="middle" fill="#141414" stroke="#141414" stroke-width="0.55">10</text>
<line x1="1575.3" y1="1454.6" x2="1575.3" y2="1464.1" stroke="#141414" stroke-width="2.6" stroke-linecap="butt"/>
<text transform="translate(1575.3 1484.47) scale(0.97 1)" font-size="20.3" text-anchor="middle" fill="#141414" stroke="#141414" stroke-width="0.55">20</text>
<line x1="1711.6" y1="1454.6" x2="1711.6" y2="1464.1" stroke="#141414" stroke-width="2.6" stroke-linecap="butt"/>
<text transform="translate(1711.6 1484.47) scale(0.97 1)" font-size="20.3" text-anchor="middle" fill="#141414" stroke="#141414" stroke-width="0.55">30</text>
<circle cx="1407.3" cy="1187.5" r="5.6" fill="#141414"/>
<circle cx="1499.3" cy="1219.4" r="5.6" fill="#141414"/>
<circle cx="1429.1" cy="1247.4" r="5.6" fill="#141414"/>
<circle cx="1424.4" cy="1254.2" r="5.6" fill="#141414"/>
<circle cx="1617" cy="1252.1" r="5.6" fill="#141414"/>
<circle cx="1517.6" cy="1269.1" r="5.6" fill="#141414"/>
<circle cx="1576" cy="1276" r="5.6" fill="#141414"/>
<circle cx="1444.9" cy="1293.1" r="5.6" fill="#141414"/>
<circle cx="1598.7" cy="1295.2" r="5.6" fill="#141414"/>
<circle cx="1672.9" cy="1303.9" r="5.6" fill="#141414"/>
<circle cx="1635" cy="1316.3" r="5.6" fill="#141414"/>
<circle cx="1449.6" cy="1328.8" r="5.6" fill="#141414"/>
<circle cx="1474.4" cy="1336.5" r="5.6" fill="#141414"/>
<circle cx="1522.6" cy="1334.4" r="5.6" fill="#141414"/>
<circle cx="1326" cy="1346.5" r="5.6" fill="#141414"/>
<circle cx="1309.8" cy="1353.6" r="5.6" fill="#141414"/>
<circle cx="1334.7" cy="1356.7" r="5.6" fill="#141414"/>
<circle cx="1308.9" cy="1371.3" r="5.6" fill="#141414"/>
<circle cx="1315.1" cy="1384.7" r="5.6" fill="#141414"/>
<circle cx="1301.1" cy="1390" r="5.6" fill="#141414"/>
<circle cx="1303.5" cy="1397.5" r="5.6" fill="#141414"/>
<circle cx="1310.4" cy="1397.1" r="5.6" fill="#141414"/>
<circle cx="1321.3" cy="1407.3" r="5.6" fill="#141414"/>
<circle cx="1304.2" cy="1408" r="5.6" fill="#141414"/>
<circle cx="1304.2" cy="1412.6" r="5.6" fill="#141414"/>
<circle cx="1324.4" cy="1419.5" r="5.6" fill="#141414"/>
<circle cx="1330" cy="1422.9" r="5.6" fill="#141414"/>
<circle cx="1301.1" cy="1431.3" r="5.6" fill="#141414"/>
<circle cx="1302.7" cy="1436" r="5.6" fill="#141414"/>
<circle cx="1307.3" cy="1438.4" r="5.6" fill="#141414"/>
<circle cx="1312" cy="1441.2" r="5.6" fill="#141414"/>
<line x1="1300" y1="1390.8" x2="1674.5" y2="1234.2" stroke="#dcdcdc" stroke-width="3" stroke-linecap="butt" stroke-dasharray="10 5"/>
<text transform="translate(1246 1318) scale(1.03 1) rotate(-90)" font-size="22.6" text-anchor="middle" fill="#141414">% Freezing time (Hyperarousal)</text>
<text x="1507.6" y="1513.6" font-size="22.6" text-anchor="middle" fill="#141414">% Freezing time (Social interaction)</text>
<line x1="671.1" y1="1674" x2="708.5" y2="1674" stroke="#141414" stroke-width="3.3" stroke-linecap="round"/>
<circle cx="690" cy="1674" r="6.85" fill="#ffffff" stroke="#141414" stroke-width="2.9"/>
<text x="721.6" y="1681.6" font-size="22.3" text-anchor="start" fill="#141414">Susceptible</text>
<line x1="870.2" y1="1674" x2="906.8" y2="1674" stroke="#141414" stroke-width="3.3" stroke-linecap="round"/>
<circle cx="888.4" cy="1674" r="6.85" fill="#3c2a9e" stroke="#141414" stroke-width="2.9"/>
<text x="920.7" y="1681.6" font-size="22.3" text-anchor="start" fill="#141414" textLength="74" lengthAdjust="spacingAndGlyphs">Resilient</text>
<line x1="1022.5" y1="1674" x2="1058.8" y2="1674" stroke="#141414" stroke-width="3.3" stroke-linecap="round"/>
<circle cx="1040.7" cy="1674" r="6.85" fill="#888888" stroke="#141414" stroke-width="2.9"/>
<text x="1072.4" y="1681.6" font-size="22.3" text-anchor="start" fill="#141414">Control</text>
</svg>
</body></html>
